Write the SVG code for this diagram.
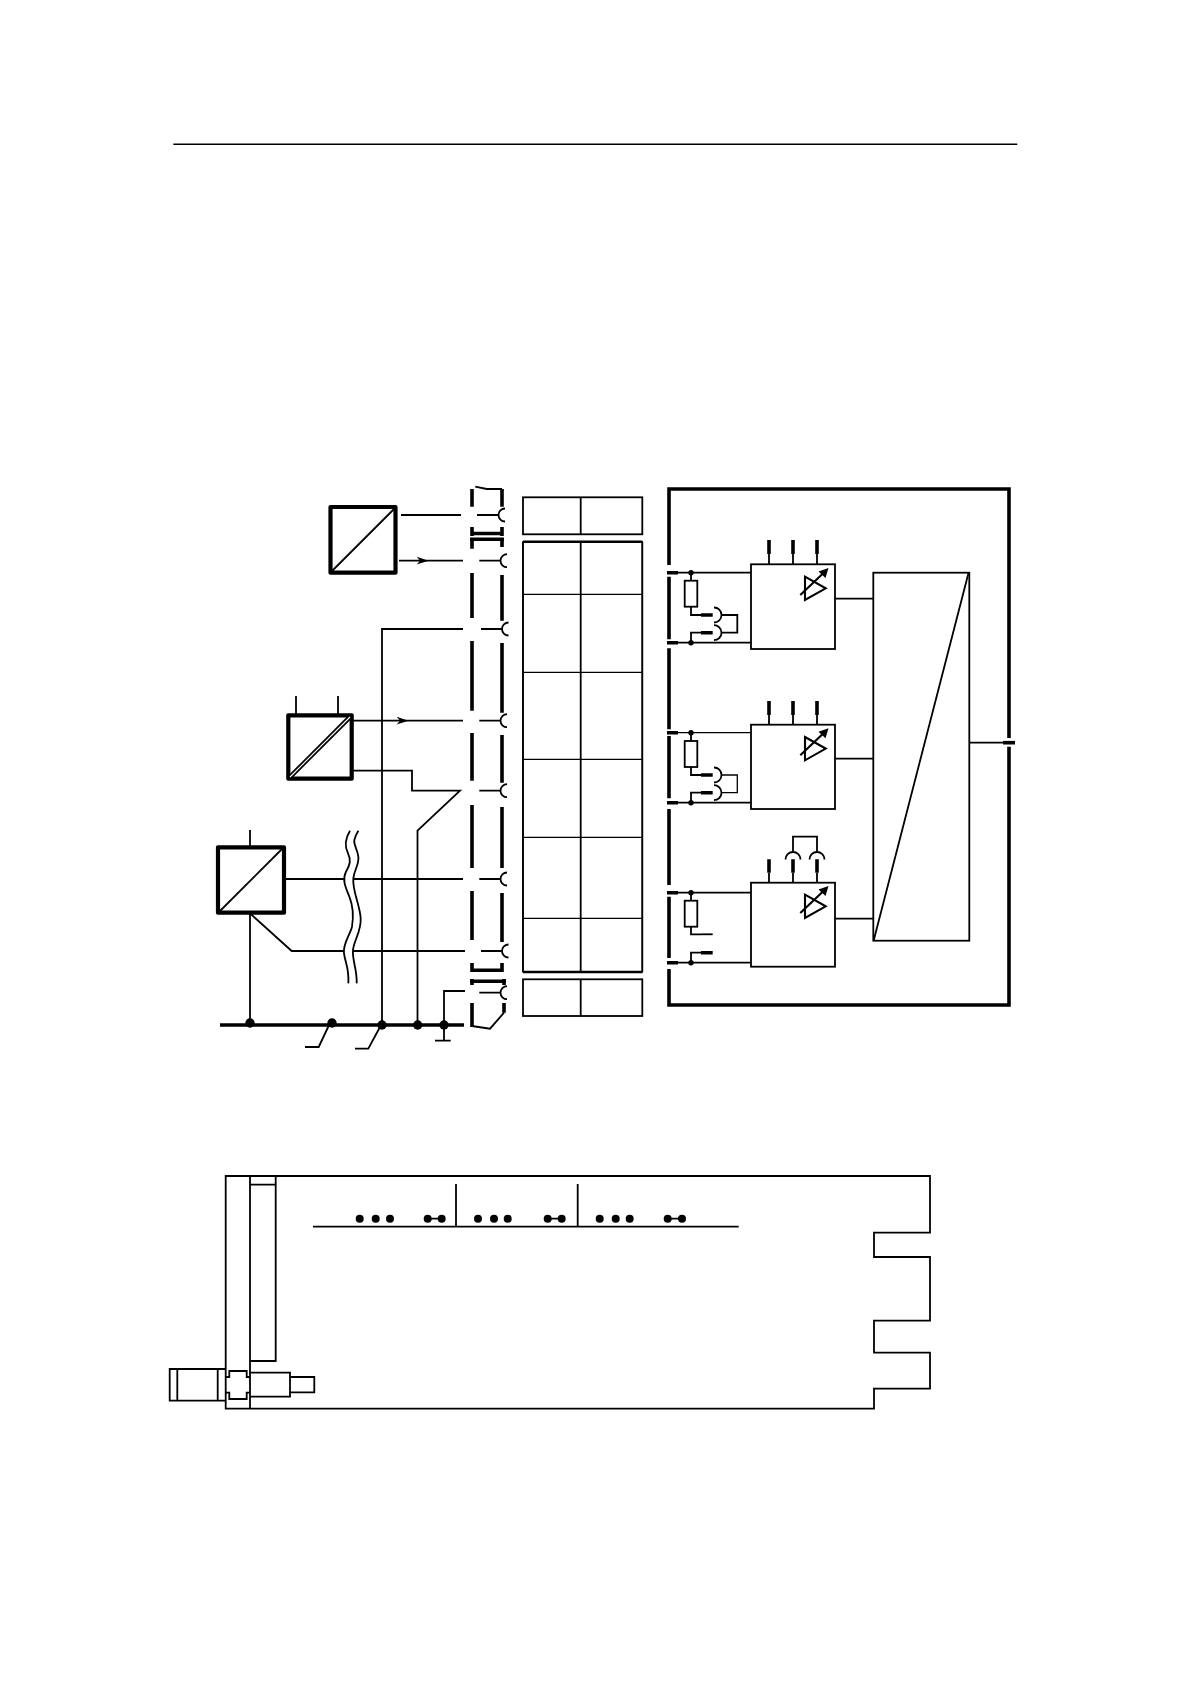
<svg xmlns="http://www.w3.org/2000/svg" xmlns:xlink="http://www.w3.org/1999/xlink" width="1190" height="1684" viewBox="0 0 1190 1684">
<style>
.l{fill:none;stroke:#000;stroke-width:1.8}
.t{fill:none;stroke:#000;stroke-width:1.3}
.h{fill:none;stroke:#000;stroke-width:3.6}
.b{fill:#fff;stroke:#000;stroke-width:4.2;stroke-linejoin:round}
.d{fill:#000;stroke:none}
.w{fill:#fff;stroke:none}
</style>
<defs>
<path id="cup" class="l" d="M6.5 -6.5A6.5 6.5 0 0 0 6.5 6.5"/>
<path id="arr" class="d" d="M0 -3.9L11.7 0L0 3.9L3.3 0Z"/>
<path id="capR" class="l" d="M0 -7.5A7.5 7.5 0 0 1 0 7.5"/>
<path id="capT" class="l" d="M-7.5 0A7.5 7.5 0 0 1 7.5 0"/>
<g id="amp">
<path class="l" style="stroke-width:2.1" d="M805 576.7L825.7 588.3L805 600Z"/>
<path class="l" style="stroke-width:2.1" d="M800.3 595L824 572.5"/>
<path class="d" d="M828.5 568L825.5 578L818.5 571.5Z"/>
</g>
</defs>
<rect width="1190" height="1684" fill="#fff"/>
<path id="rule" class="t" style="stroke-width:1.5" d="M173.3 144.3H1017.3"/>

<g id="connectors">
<path class="l" d="M401 515H461M477 515H498"/>
<path class="l" d="M399 560.7H463M479.3 560.7H500"/>
<path class="l" d="M463 629H382V1025M481 629H502"/>
<path class="l" d="M351.7 720.7H463M479.3 720.7H500"/>
<path class="l" d="M351.7 770.7H412V790.7H460L417.5 830.7V1025M479.3 790.7H500"/>
<path class="l" d="M285 879H463M479.3 879H500"/>
<path class="l" d="M250 913.3L291.7 951H465M481 951H502"/>
<path class="l" d="M250 913V1025"/>
<path class="l" d="M465 991H444V1040.7M435 1040.7H450.7M479.3 992.7H500"/>
<path class="h" d="M220 1025H464"/>
<circle class="d" cx="250" cy="1023" r="4.7"/>
<circle class="d" cx="332" cy="1023" r="4.7"/>
<circle class="d" cx="382" cy="1025" r="4.7"/>
<circle class="d" cx="417.7" cy="1025" r="4.7"/>
<circle class="d" cx="444" cy="1025" r="4.7"/>
<path class="l" d="M330 1023L318.7 1047H305M380 1027L368.3 1048.7H355"/>
<use href="#arr" x="416.7" y="560.7"/>
<use href="#arr" x="396.7" y="720.7"/>
<use href="#cup" x="498.5" y="515"/>
<use href="#cup" x="500.5" y="560.7"/>
<use href="#cup" x="502" y="629"/>
<use href="#cup" x="500.5" y="720.7"/>
<use href="#cup" x="500.5" y="790.7"/>
<use href="#cup" x="500.5" y="879"/>
<use href="#cup" x="502" y="951"/>
<use href="#cup" x="500.5" y="992.7"/>
</g>

<g id="wave-break" transform="translate(200 790) scale(.33333)">
<path class="w" d="M450 122C436 145 434 170 444 190C454 210 450 225 438 245C426 270 436 290 448 320C460 350 460 385 456 410C450 435 428 460 432 490C436 520 448 535 445 580L470 580C472 540 456 510 459 480C462 450 484 425 482 385C480 345 456 300 460 265C462 240 478 225 475 200C472 175 460 165 463 150C465 140 470 130 475 122Z"/>
<path fill="none" stroke="#000" stroke-width="5.4" d="M450 122C436 145 434 170 444 190C454 210 450 225 438 245C426 270 436 290 448 320C460 350 460 385 456 410C450 435 428 460 432 490C436 520 448 535 445 580"/>
<path fill="none" stroke="#000" stroke-width="5.4" d="M475 122C470 130 465 140 463 150C460 165 472 175 475 200C478 225 462 240 460 265C456 300 480 345 482 385C484 425 462 450 459 480C456 510 472 540 470 580"/>
</g>

<g id="converter-1">
<rect class="b" x="330.5" y="507" width="65" height="65.7"/>
<path class="l" d="M332 571L394 509"/>
</g>
<g id="converter-2">
<path class="l" d="M296 696V715M338 696V715"/>
<rect class="b" x="288.3" y="715.3" width="63.4" height="63.4"/>
<path fill="none" stroke="#000" stroke-width="4.6" d="M290 777L350 717"/>
<path fill="none" stroke="#fff" stroke-width="1.1" d="M290 777L350 717"/>
</g>
<g id="converter-3">
<path class="l" d="M250 830V847"/>
<rect class="b" x="218" y="847.3" width="66" height="65.4"/>
<path class="l" d="M220 911L282 849"/>
</g>

<g id="connector-strip">
<path class="h" d="M472 489V506.7M472 527V536M472 539V548.7M472 573V618M472 641V710.7M472 733V780.7M472 805V868M472 891V940M472 963V972M472 979V985M472 1003V1027"/>
<path class="h" d="M502 489V506.7M502 527V536M502 539V547M502 575V620.7M502 643V712.7M502 735V782.7M502 807V868M502 893V942M502 963V972"/>
<path class="h" d="M504 979V985M504 1003V1012.7"/>
<path class="h" d="M472 533.5H502M470 539.3H504M472 970.3H502M470 981.3H506"/>
<path class="l" d="M475.3 486.7L486.7 489H502"/>
<path class="l" d="M504 1012.7L490 1028.7L472 1026"/>
</g>

<g id="terminal-table">
<rect class="l" x="523" y="497.3" width="119.3" height="37"/>
<path class="l" d="M580.7 497.3V534.3"/>
<rect class="t" x="523" y="541.7" width="119.3" height="430.3"/>
<path class="l" d="M523 541.7V972M642.3 541.7V972"/>
<path class="h" style="stroke-width:2.4" d="M523 541.7H642.3M523 972H642.3"/>
<path class="l" d="M580.7 541.7V972"/>
<path class="t" d="M523 594.3H642.3M523 672.3H642.3M523 759.3H642.3M523 837.3H642.3M523 918.3H642.3"/>
<rect class="l" x="523" y="979.3" width="119.3" height="36.7"/>
<path class="l" d="M580.7 979.3V1016"/>
</g>

<g id="module-frame">
<path class="h" d="M669 565V489H1009V738M1009 746.7V1005H669V969M669 958V896.7M669 885V809M669 798.3V736M669 729.3V648.3M669 639.3V576.7"/>
<path class="l" d="M970 742.7H1003"/>
<path class="h" d="M1003 742.7H1015"/>
</g>

<g id="channel-1">
<rect class="l" x="751" y="564.3" width="84" height="84.7"/>
<path class="l" d="M678 572.7H751M691 572.7V580.7M691 606.7V615H701M678 642.7H751M691 642.7V632.7H701M721.5 615H737.3V632.7H721.5M769 554V564.3M793 554V564.3M817 554V564.3M835 598.7H873"/>
<rect class="l" x="684.7" y="580.7" width="12.6" height="26"/>
<path class="h" d="M667 572.7H678M667 642.7H678M701 615H712.7M701 632.7H712.7M769 540V554M793 540V554M817 540V554"/>
<circle class="d" cx="691" cy="572.7" r="2.7"/>
<circle class="d" cx="691" cy="642.7" r="2.7"/>
<use href="#capR" x="714" y="615"/>
<use href="#capR" x="714" y="632.7"/>
<use href="#amp"/>
</g>
<g id="channel-2">
<rect class="l" x="751" y="724.7" width="84" height="84.3"/>
<path class="t" d="M678 732.7H751M721.5 775H737.3V792.7H721.5"/>
<path class="l" d="M691 732.7V741M691 767V775H701M678 802.7H751M691 802.7V792.7H701M769 715V724.7M793 715V724.7M817 715V724.7M835 758.7H873"/>
<rect class="l" x="684.7" y="741" width="12.6" height="26"/>
<path class="h" d="M667 732.7H678M667 802.7H678M701 775H712.7M701 792.7H712.7M769 701V715M793 701V715M817 701V715"/>
<circle class="d" cx="691" cy="732.7" r="2.7"/>
<circle class="d" cx="691" cy="802.7" r="2.7"/>
<use href="#capR" x="714" y="775"/>
<use href="#capR" x="714" y="792.7"/>
<use href="#amp" y="160.3"/>
</g>
<g id="channel-3">
<rect class="l" x="751" y="882.7" width="84" height="84"/>
<path class="l" d="M678 892.7H751M691 892.7V900.7M691 926.7V934.3H701M678 962.7H751M691 962.7V952.7H701M769 872.7V882.7M793 872.7V882.7M817 872.7V882.7M835 918.7H873M793 852.3V836.7H817V852.3"/>
<rect class="l" x="684.7" y="900.7" width="12.6" height="26"/>
<path class="h" d="M667 892.7H678M667 962.7H678M769 859.3V872.7M793 859.3V872.7M817 859.3V872.7M701 952.7H712.7"/>
<path class="l" d="M701 934.3H712.7"/>
<circle class="d" cx="691" cy="892.7" r="2.7"/>
<circle class="d" cx="691" cy="962.7" r="2.7"/>
<use href="#capT" x="793" y="859.5"/>
<use href="#capT" x="817" y="859.5"/>
<use href="#amp" y="318"/>
</g>
<g id="multiplexer">
<rect class="l" x="873.3" y="572.7" width="96" height="368"/>
<path class="l" d="M968.5 573L873.8 940"/>
</g>

<g id="card">
<path class="l" d="M225.7 1176H930V1232.7H874V1257H930V1320.7H874V1352.7H930V1388.7H874V1408.7H225.7Z"/>
<path class="l" d="M250 1176V1408.7M250 1184.7H275.7M275.7 1176V1361H250"/>
<path class="l" d="M225.7 1369H169.7V1400.7H225.7M177.3 1369V1400.7M217.7 1369V1400.7"/>
<path class="l" d="M225.7 1377H229.3V1371H246.7V1377H250M225.7 1392.7H229.3V1399H246.7V1392.7H250"/>
<path class="l" d="M250 1372.7H290V1396.7H250M290 1377H314.3V1392.3H290"/>
<path class="l" d="M313 1226.7H738.7M456 1184V1226.7M577.7 1184V1226.7"/>
<circle class="d" cx="359.7" cy="1218.7" r="4"/>
<circle class="d" cx="375.7" cy="1218.7" r="4"/>
<circle class="d" cx="390" cy="1218.7" r="4"/>
<circle class="d" cx="427.7" cy="1218.7" r="4"/>
<circle class="d" cx="441.7" cy="1218.7" r="4"/>
<path class="l" d="M427.7 1218.7H441.7M547.7 1218.7H561.7M667.7 1218.7H682"/>
<circle class="d" cx="478" cy="1218.7" r="4"/>
<circle class="d" cx="494" cy="1218.7" r="4"/>
<circle class="d" cx="507.7" cy="1218.7" r="4"/>
<circle class="d" cx="547.7" cy="1218.7" r="4"/>
<circle class="d" cx="561.7" cy="1218.7" r="4"/>
<circle class="d" cx="599.7" cy="1218.7" r="4"/>
<circle class="d" cx="615.7" cy="1218.7" r="4"/>
<circle class="d" cx="629.7" cy="1218.7" r="4"/>
<circle class="d" cx="667.7" cy="1218.7" r="4"/>
<circle class="d" cx="682" cy="1218.7" r="4"/>
</g>
</svg>
